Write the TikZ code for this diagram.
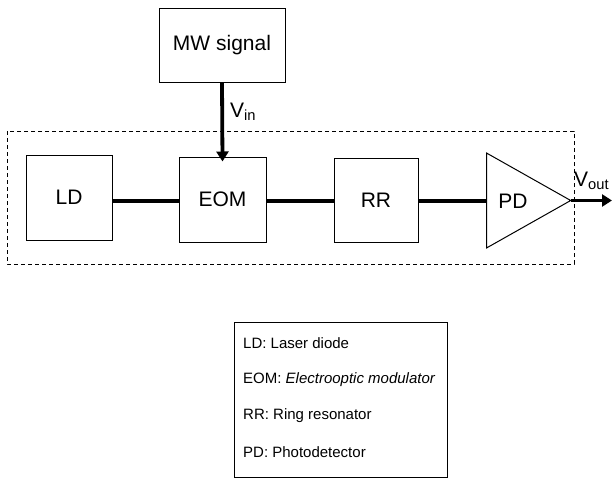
\documentclass[tikz,border=0pt]{standalone}
\usepackage{fontspec}
\setmainfont{Liberation Sans}
\usetikzlibrary{arrows.meta}
\begin{document}
\begin{tikzpicture}[x=1pt,y=-1pt,
  blk/.style={draw,line width=1pt,inner sep=0pt,font=\fontsize{21}{25}\selectfont},
  conn/.style={line width=3.8pt},
  arr/.style={line width=3.8pt,-{Triangle[length=10pt,width=12pt]}},
  legtxt/.style={anchor=west,inner sep=0pt,font=\fontsize{15}{18}\selectfont},
  lbl/.style={inner sep=0pt,font=\fontsize{21}{25}\selectfont}]
\useasboundingbox (0,0) rectangle (614,482);
% dashed enclosure
\draw[line width=0.9pt,dash pattern=on 4pt off 3pt] (7,131) rectangle (574,264);
% blocks
\node[blk,minimum width=126pt,minimum height=74pt] (mw) at (222,45) {MW signal};
\node[blk,minimum width=86pt,minimum height=85pt] (ld) at (69,197.5) {LD};
\node[blk,minimum width=87pt,minimum height=85pt] (eom) at (222.5,199.5) {EOM};
\node[blk,minimum width=84pt,minimum height=84pt] (rr) at (376,200) {RR};
% photodetector triangle
\draw[line width=1pt] (486.5,153) -- (570.7,200.5) -- (486.5,248) -- cycle;
\coordinate (pdin) at (486.5,201);
\coordinate (pdout) at (570.7,200.5);
\coordinate (vout) at (612,200.5);
\node[lbl] (pd) at (513,201) {PD};
% connectors
\draw[conn] (ld.east |- 0,201) -- (eom.west |- 0,201);
\draw[conn] (eom.east |- 0,201) -- (rr.west |- 0,201);
\draw[conn] (rr.east |- 0,201) -- (pdin);
\draw[arr] (mw.south) -- ([yshift=-5pt]eom.north);
\draw[arr] (pdout) -- (vout);
% labels
\node[lbl,anchor=west] (vin) at (230,112) {V\textsubscript{in}};
\node[lbl,anchor=west] (vo) at (574,181) {V\textsubscript{out}};
% legend
\node[draw,line width=1pt,minimum width=213pt,minimum height=155pt,inner sep=0pt] (leg) at (340.5,399.5) {};
\node[legtxt] (l1) at (243,343) {LD: Laser diode};
\node[legtxt] (l2) at (243,379.5) {EOM: \itshape Electrooptic modulator};
\node[legtxt] (l3) at (243,416) {RR: Ring resonator};
\node[legtxt] (l4) at (243,452) {PD: Photodetector};
\end{tikzpicture}
\end{document}
